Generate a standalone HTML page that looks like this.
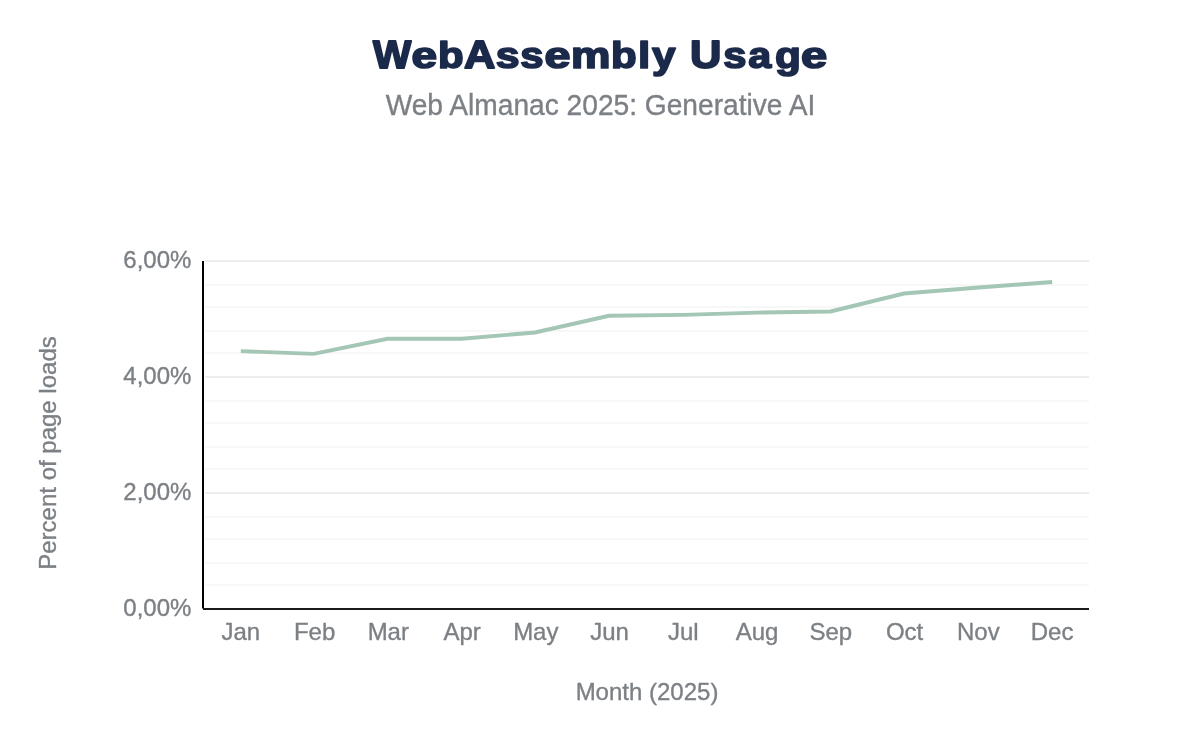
<!DOCTYPE html>
<html><head><meta charset="utf-8">
<style>
html,body{margin:0;padding:0;background:#fff;}
body{width:1200px;height:742px;overflow:hidden;position:relative;}
svg{position:absolute;left:0;top:0;will-change:transform;}
text{font-family:"Liberation Sans",sans-serif;}
</style></head>
<body>
<svg width="1200" height="742" viewBox="0 0 1200 742">
<g font-size="39" font-weight="bold" fill="#1b2a4a" stroke="#1b2a4a" stroke-width="1.8" stroke-linejoin="round"><text transform="translate(372.88,68.2) scale(1.0390,1.0175)">W</text><text transform="translate(411.61,68.2) scale(1.1805,0.952)">e</text><text transform="translate(438.11,68.2) scale(1.0776,0.957)">b</text><text transform="translate(464.10,68.2) scale(1.1143,1.0175)">A</text><text transform="translate(495.65,68.2) scale(1.0976,0.952)">s</text><text transform="translate(520.21,68.2) scale(1.0756,0.952)">s</text><text transform="translate(544.50,68.2) scale(1.2000,0.952)">e</text><text transform="translate(570.91,68.2) scale(1.1381,0.952)">m</text><text transform="translate(611.01,68.2) scale(1.0776,0.957)">b</text><text transform="translate(638.02,68.2) scale(1.1310,0.957)">l</text><text transform="translate(652.04,68.2) scale(1.0879,0.965)">y</text><text transform="translate(690.12,68.2) scale(1.1168,1.0175)">U</text><text transform="translate(723.16,68.2) scale(1.0732,0.952)">s</text><text transform="translate(748.14,68.2) scale(1.0578,0.952)">a</text><text transform="translate(775.08,68.2) scale(1.0871,0.965)">g</text><text transform="translate(801.09,68.2) scale(1.2098,0.952)">e</text></g>
<text transform="translate(600.5,114.5) scale(1.0056,1.04)" text-anchor="middle" font-size="28" fill="#7c8085" stroke="#7c8085" stroke-width="0.35">Web Almanac 2025: Generative AI</text>
<g stroke="#f7f7f7" stroke-width="2"><line x1="205" y1="285" x2="1089" y2="285"/><line x1="205" y1="307" x2="1089" y2="307"/><line x1="205" y1="331" x2="1089" y2="331"/><line x1="205" y1="353" x2="1089" y2="353"/><line x1="205" y1="401" x2="1089" y2="401"/><line x1="205" y1="423" x2="1089" y2="423"/><line x1="205" y1="447" x2="1089" y2="447"/><line x1="205" y1="469" x2="1089" y2="469"/><line x1="205" y1="517" x2="1089" y2="517"/><line x1="205" y1="539" x2="1089" y2="539"/><line x1="205" y1="563" x2="1089" y2="563"/><line x1="205" y1="585" x2="1089" y2="585"/></g>
<g stroke="#eceeec" stroke-width="2"><line x1="205" y1="261" x2="1089" y2="261"/><line x1="205" y1="377" x2="1089" y2="377"/><line x1="205" y1="493" x2="1089" y2="493"/></g>
<line x1="203" y1="261" x2="203" y2="608.6" stroke="#000" stroke-width="2"/>
<line x1="203" y1="609" x2="1089" y2="609" stroke="#1a1a1a" stroke-width="2"/>
<polyline fill="none" stroke="#a3c6b5" stroke-width="3.9" stroke-linejoin="miter" points="240.8,351.1 313.7,353.9 387.5,338.8 462,338.8 535,332.5 609,315.8 683,314.9 757,312.6 830.5,311.5 904,293.5 979,287.5 1052.2,282"/>
<text transform="translate(191.4,268.3) scale(1.0,1.0)" text-anchor="end" font-size="24" fill="#7c8085" stroke="#7c8085" stroke-width="0.35">6,00%</text>
<text transform="translate(191.4,384.2) scale(1.0,1.0)" text-anchor="end" font-size="24" fill="#7c8085" stroke="#7c8085" stroke-width="0.35">4,00%</text>
<text transform="translate(191.4,500.0) scale(1.0,1.0)" text-anchor="end" font-size="24" fill="#7c8085" stroke="#7c8085" stroke-width="0.35">2,00%</text>
<text transform="translate(191.4,615.9) scale(1.0,1.0)" text-anchor="end" font-size="24" fill="#7c8085" stroke="#7c8085" stroke-width="0.35">0,00%</text>
<text transform="translate(240.8,640) scale(1.0,1.0)" text-anchor="middle" font-size="24" fill="#7c8085" stroke="#7c8085" stroke-width="0.35">Jan</text>
<text transform="translate(314.55,640) scale(1.0,1.0)" text-anchor="middle" font-size="24" fill="#7c8085" stroke="#7c8085" stroke-width="0.35">Feb</text>
<text transform="translate(388.3,640) scale(1.0,1.0)" text-anchor="middle" font-size="24" fill="#7c8085" stroke="#7c8085" stroke-width="0.35">Mar</text>
<text transform="translate(462.05,640) scale(1.0,1.0)" text-anchor="middle" font-size="24" fill="#7c8085" stroke="#7c8085" stroke-width="0.35">Apr</text>
<text transform="translate(535.8,640) scale(1.0,1.0)" text-anchor="middle" font-size="24" fill="#7c8085" stroke="#7c8085" stroke-width="0.35">May</text>
<text transform="translate(609.55,640) scale(1.0,1.0)" text-anchor="middle" font-size="24" fill="#7c8085" stroke="#7c8085" stroke-width="0.35">Jun</text>
<text transform="translate(683.3,640) scale(1.0,1.0)" text-anchor="middle" font-size="24" fill="#7c8085" stroke="#7c8085" stroke-width="0.35">Jul</text>
<text transform="translate(757.05,640) scale(1.0,1.0)" text-anchor="middle" font-size="24" fill="#7c8085" stroke="#7c8085" stroke-width="0.35">Aug</text>
<text transform="translate(830.8,640) scale(1.0,1.0)" text-anchor="middle" font-size="24" fill="#7c8085" stroke="#7c8085" stroke-width="0.35">Sep</text>
<text transform="translate(904.55,640) scale(1.0,1.0)" text-anchor="middle" font-size="24" fill="#7c8085" stroke="#7c8085" stroke-width="0.35">Oct</text>
<text transform="translate(978.3,640) scale(1.0,1.0)" text-anchor="middle" font-size="24" fill="#7c8085" stroke="#7c8085" stroke-width="0.35">Nov</text>
<text transform="translate(1052.05,640) scale(1.0,1.0)" text-anchor="middle" font-size="24" fill="#7c8085" stroke="#7c8085" stroke-width="0.35">Dec</text>
<text transform="translate(647,699.5) scale(1.0,1.0)" text-anchor="middle" font-size="24" fill="#7c8085" stroke="#7c8085" stroke-width="0.35">Month (2025)</text>
<text transform="translate(56,453) rotate(-90)" text-anchor="middle" font-size="24" fill="#7c8085" stroke="#7c8085" stroke-width="0.35">Percent of page loads</text>
</svg>
</body></html>
